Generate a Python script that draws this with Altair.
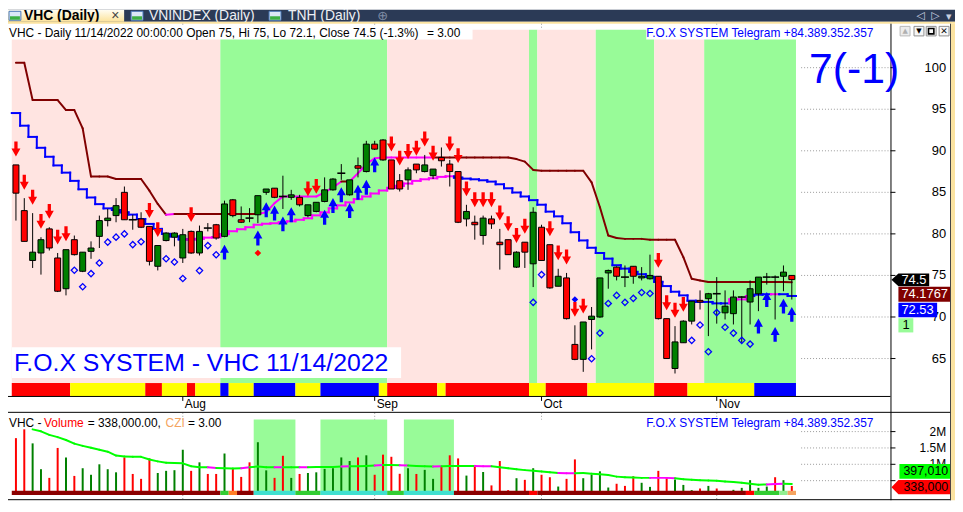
import altair as alt
import pandas as pd

FONT = "Liberation Sans"
SYM = "DejaVu Sans"

# ---------------- daily bars, 4 Jul - 14 Nov 2022 (price in thousand VND) ----------------
opens = [88.3, 82.8, 76.8, 77.7, 80.6, 77.1, 73.4, 79.3, 75.5, 77.9,
         79.7, 81.6, 82.2, 85.0, 81.7, 81.8, 80.9, 76.1, 79.2, 79.6,
         77.1, 80.3, 77.7, 80.7, 81.1, 79.7, 84.1, 81.7, 81.9, 82.3,
         85.0, 85.5, 84.5, 84.4, 84.4, 82.2, 82.7, 83.9, 85.3, 87.3,
         84.7, 88.2, 87.5, 90.8, 91.3, 88.9, 86.4, 86.5, 88.4, 87.5,
         87.0, 89.2, 88.4, 87.5, 81.8, 81.4, 79.8, 81.8, 79.0, 79.3,
         76.0, 79.0, 76.4, 80.8, 78.7, 73.7, 74.7, 66.7, 64.9, 69.7,
         70.0, 75.3, 76.0, 74.8, 76.1, 74.7, 74.6, 74.9, 69.8, 63.8,
         66.9, 69.5, 72.0, 72.2, 72.8, 70.5, 70.4, 72.4, 71.8, 72.8,
         74.8, 74.8, 74.9, 75.0]
highs = [88.3, 84.3, 82.5, 79.6, 80.8, 77.7, 78.1, 79.8, 77.8, 79.1,
         82.2, 83.0, 84.3, 85.7, 82.3, 82.6, 80.9, 78.6, 80.2, 80.2,
         80.6, 80.4, 81.0, 81.3, 81.2, 84.0, 84.2, 83.3, 83.1, 84.6,
         85.4, 85.5, 87.0, 85.3, 84.7, 83.5, 83.8, 86.8, 86.7, 88.4,
         86.5, 89.2, 91.2, 91.2, 91.4, 88.9, 87.2, 88.0, 88.4, 89.5,
         87.8, 90.4, 88.9, 87.5, 83.5, 82.2, 82.2, 82.2, 80.6, 79.3,
         77.9, 79.0, 83.2, 81.1, 78.7, 75.8, 75.3, 69.0, 69.4, 71.2,
         74.7, 75.7, 76.1, 76.2, 76.1, 76.0, 77.5, 74.9, 69.8, 68.9,
         69.6, 71.9, 73.2, 72.9, 74.8, 73.2, 73.2, 72.5, 74.4, 74.8,
         75.3, 75.0, 76.2, 75.0]
lows = [81.6, 79.1, 75.9, 75.1, 78.0, 73.0, 72.6, 77.4, 75.4, 77.0,
        78.3, 80.9, 81.4, 81.7, 80.5, 80.7, 76.2, 75.6, 79.1, 78.5,
        76.5, 77.6, 77.4, 80.3, 79.3, 79.6, 82.0, 81.3, 81.4, 81.3,
        84.7, 84.3, 83.0, 84.1, 83.3, 82.0, 82.6, 83.8, 85.2, 86.5,
        84.6, 86.8, 87.4, 90.1, 88.8, 85.4, 85.1, 85.3, 87.3, 87.4,
        86.6, 88.1, 85.7, 81.3, 80.9, 79.3, 78.7, 80.6, 75.7, 77.5,
        75.9, 75.9, 73.6, 76.8, 73.4, 73.7, 69.7, 64.8, 63.4, 66.1,
        69.9, 73.4, 74.4, 73.6, 74.0, 74.4, 74.5, 69.7, 65.0, 63.2,
        66.9, 69.1, 70.9, 67.7, 69.2, 69.7, 69.1, 66.9, 69.1, 70.7,
        73.9, 69.7, 73.1, 72.1]
closes = [84.9, 79.1, 77.8, 79.3, 78.3, 73.1, 78.1, 77.5, 77.8, 78.3,
          81.6, 81.9, 83.4, 81.7, 81.7, 80.8, 76.7, 78.6, 80.1, 80.1,
          79.9, 77.7, 80.3, 80.7, 79.5, 83.6, 82.2, 81.4, 81.9, 84.6,
          85.4, 84.4, 84.5, 84.7, 83.5, 83.5, 83.8, 85.3, 86.6, 87.3,
          86.5, 87.9, 90.8, 90.2, 88.9, 85.4, 85.4, 87.7, 87.7, 88.3,
          87.8, 88.8, 87.5, 81.4, 82.7, 81.1, 81.9, 81.2, 78.7, 77.5,
          77.8, 77.8, 82.6, 76.8, 73.5, 74.9, 69.8, 64.9, 69.4, 70.1,
          74.7, 75.6, 74.9, 74.8, 74.9, 74.9, 75.0, 69.8, 65.0, 67.0,
          69.5, 71.9, 71.8, 72.8, 72.8, 71.3, 72.4, 72.4, 73.4, 74.8,
          74.8, 74.8, 75.4, 74.5]
volumes_k = [1800, 2070, 1640, 850, 585, 1500, 1210, 645, 880, 680,
             1000, 850, 755, 1210, 705, 555, 1180, 735, 800, 820,
             1445, 800, 1060, 705, 705, 1330, 860, 615, 1060, 1675,
             815, 585, 1260, 585, 705, 735, 755, 860, 880, 1210,
             1100, 1210, 1275, 680, 1295, 1230, 710, 880, 705, 830,
             555, 930, 1275, 1180, 655, 980, 765, 355, 1100, 210,
             575, 525, 880, 680, 605, 320, 555, 1150, 575, 680,
             785, 290, 405, 340, 635, 435, 310, 800, 575, 535,
             370, 210, 260, 340, 260, 110, 220, 280, 515, 280,
             320, 605, 515, 338]
volume_dir = ("dduudduduu" "uuudddduuu" "ududdudddu" "udduduuuuu" "ududdddudu"
              "udddududdd" "ududdudduu" "uuddduuddu" "uududuuuuu" "udud")

upper_stop = [100.6, 100.6, 96.1, 96.1, 96.1, 96.1, 94.9, 94.9, 92.7, 86.9,
              86.9, 86.9, 86.6, 86.6, 86.6, 86.6, 85.2, 83.6, 82.3, 82.4,
              82.4, 82.4, 82.4, 82.4, 82.4, 82.4, 82.4, 82.4, 82.4, 82.4,
              82.6, 83.7, 84.5, 84.5, 84.5, 84.5, 84.5, 85.0, 85.6, 86.3,
              86.3, 87.3, 88.4, 89.1, 89.2, 89.2, 89.2, 89.2, 89.2, 89.2,
              89.2, 89.2, 89.2, 89.2, 89.2, 89.2, 89.2, 89.2, 89.2, 89.2,
              89.0, 88.7, 87.7, 87.6, 87.6, 87.6, 87.6, 87.6, 87.6, 86.2,
              83.2, 79.8, 79.5, 79.4, 79.4, 79.4, 79.3, 79.3, 79.3, 79.3,
              77.2, 74.6, 74.4, 74.2, 74.2, 74.2, 74.2, 74.2, 74.2, 74.2,
              74.2, 74.2, 74.2, 74.18]
lower_stop = [94.54, 93.02, 91.67, 90.36, 89.28, 88.24, 87.37, 86.38, 85.37, 84.38,
              83.58, 83.07, 82.87, 82.59, 82.32, 81.79, 81.2, 80.6, 80.0, 79.69,
              79.33, 79.33, 79.4, 79.55, 79.6, 79.97, 80.32, 80.56, 80.8, 81.1,
              81.22, 81.28, 81.4, 81.52, 81.7, 81.88, 82.23, 82.59, 83.07, 83.43,
              83.79, 84.18, 84.5, 84.86, 85.22, 85.54, 85.78, 86.06, 86.38, 86.57,
              86.69, 86.86, 86.93, 86.77, 86.65, 86.57, 86.45, 86.29, 85.97, 85.49,
              84.98, 84.5, 84.06, 83.51, 82.68, 82.11, 81.28, 80.2, 79.21, 78.33,
              77.7, 77.02, 76.23, 75.82, 75.43, 75.15, 74.83, 74.23, 73.72, 73.04,
              72.6, 71.96, 71.81, 71.81, 71.64, 71.64, 72.12, 72.12, 72.52, 72.68,
              72.74, 72.74, 72.74, 72.53]
volume_ma_k = [2068, 2009, 1899, 1831, 1742, 1632, 1564, 1504, 1445, 1386,
               1267, 1237, 1228, 1228, 1148, 1089, 1050, 1039, 1030, 941,
               911, 911, 890, 881, 872, 881, 911, 932, 911, 911,
               911, 911, 911, 911, 920, 920, 920, 932, 941, 941,
               950, 961, 979, 979, 970, 961, 950, 941, 932, 941,
               950, 950, 950, 950, 941, 941, 911, 881, 852, 822,
               801, 783, 754, 733, 724, 724, 733, 712, 694, 674,
               623, 605, 593, 585, 585, 585, 585, 576, 546, 525,
               516, 504, 496, 475, 457, 436, 407, 377, 386, 398,
               407, 397]
VOLUME_MA_FIRST = 2

upper_stop_runs = [(0, 18, "dn"), (18, 19, "up"), (19, 29, "dn"), (29, 39, "up"),
                   (39, 40, "dn"), (40, 50, "up"), (50, 93, "dn")]
lower_stop_runs = [(0, 20, "dn"), (21, 52, "up"), (53, 85, "dn"), (86, 88, "up"),
                   (89, 90, "dn"), (91, 91, "up"), (92, 93, "dn")]
volume_ma_up_runs = [(23, 24), (27, 28), (31, 32), (34, 35), (39, 40), (43, 44),
                     (46, 47), (50, 51), (55, 57), (65, 67), (76, 79), (90, 92)]

sell_bars = [0, 1, 2, 3, 4, 5, 6, 16, 17, 21, 35, 36, 45, 46, 47, 48, 49, 50, 52, 53,
             54, 55, 56, 57, 58, 59, 60, 61, 64, 65, 66, 67, 68, 77, 78, 79, 80]
buy_bars = [25, 29, 30, 31, 32, 33, 37, 38, 39, 40, 41, 42, 43, 89, 90, 91, 92, 93]
stop_dot_bars = [7, 8, 9, 10, 11, 12, 13, 14, 15, 18, 19, 20, 22, 23, 24, 62, 63,
                 69, 70, 71, 72, 73, 74, 75, 76, 81, 82, 83, 84, 85, 86, 87, 88]
stop_dot_values = [75.63, 73.64, 75.22, 76.5, 79.01, 79.61, 80.0, 78.71, 79.05, 77.01,
                   76.62, 74.63, 75.58, 78.59, 77.49, 71.76, 75.1, 64.98, 68.06, 71.63,
                   72.6, 71.76, 72.24, 72.94, 72.83, 67.19, 69.04, 65.81, 70.53, 68.77,
                   68.06, 67.19, 66.74]
signal_dot_bars = [29, 67]
signal_dot_values = [77.7, 72.1]
signal_dot_kind = ["sell", "buy"]

trend_runs = [(0, 24, "P"), (25, 44, "G"), (45, 61, "P"), (62, 62, "G"), (63, 69, "P"),
              (70, 76, "G"), (77, 82, "P"), (83, 93, "G")]
state_runs = [(0, 6, "R"), (7, 15, "Y"), (16, 17, "R"), (18, 20, "Y"), (21, 21, "R"),
              (22, 24, "Y"), (25, 25, "B"), (26, 28, "Y"), (29, 33, "B"), (34, 36, "Y"),
              (37, 43, "B"), (44, 44, "Y"), (45, 50, "R"), (51, 51, "Y"), (52, 61, "R"),
              (62, 63, "Y"), (64, 68, "R"), (69, 76, "Y"), (77, 80, "R"), (81, 88, "Y"),
              (89, 93, "B")]
volume_zone_runs = [(29, 33, "G"), (37, 44, "G"), (47, 52, "G")]
czi_runs = [(0, 24, "dr"), (25, 25, "g"), (26, 26, "o"), (27, 28, "dr"), (29, 33, "t"),
            (34, 36, "g"), (37, 44, "t"), (45, 46, "g"), (47, 52, "t"), (53, 61, "dr"),
            (62, 62, "r"), (63, 87, "dr"), (88, 88, "r"), (89, 91, "g"), (92, 92, "lg"),
            (93, 93, "sb")]

month_bars = [20, 43, 63, 84]
month_names = ["Aug", "Sep", "Oct", "Nov"]
price_ticks = [65, 70, 75, 80, 85, 90, 95, 100]
volume_ticks_k = [500, 1000, 1500, 2000]
volume_tick_text = ["", "1M", "1.5M", "2M"]

# ---------------- styles ----------------
C_PINK, C_PALE = "#ffe4e1", "#98fb98"
STOP_UP_COL = {"dn": "#800000", "up": "#ff00ff"}
STOP_LO_COL = {"dn": "#0000ff", "up": "#ff00ff"}
STATE_COL = {"R": "#ff0000", "Y": "#ffff00", "B": "#0000ff"}
TREND_COL = {"P": C_PINK, "G": C_PALE}
CZI_COL = {"dr": "#8b0000", "g": "#32cd32", "o": "#ff7f27", "t": "#40e0d0",
           "r": "#ff0000", "lg": "#90ee90", "sb": "#f4a460"}
VOL_COL = {"u": "#008000", "d": "#ff0000"}
DOWN_ARROW = "M-0.22,-1L0.22,-1L0.22,-0.08L0.6,-0.08L0,1L-0.6,-0.08L-0.22,-0.08Z"
UP_ARROW = "M-0.22,1L0.22,1L0.22,0.08L0.6,0.08L0,-1L-0.6,0.08L-0.22,0.08Z"

N = len(closes)
idx = list(range(N))
W, H = 954, 494

XS = alt.Scale(domain=[0, N - 1], range=[3, 794.6], nice=False, zero=False)
PS = alt.Scale(domain=[65, 100], range=[351.3, 58.3], nice=False, zero=False)
VS = alt.Scale(domain=[0, 2000], range=[490.8, 424.9], nice=False, zero=False)


def xq(f):
    return alt.X(f, type="quantitative", scale=XS, axis=None)


def py(f):
    return alt.Y(f, type="quantitative", scale=PS, axis=None)


def vy(f):
    return alt.Y(f, type="quantitative", scale=VS, axis=None)


ONE = pd.DataFrame({"k": [0]})


def box(x1, x2, y1, y2, fill, stroke=None, sw=1.0):
    kw = {"fill": fill}
    if stroke is not None:
        kw["stroke"] = stroke
        kw["strokeWidth"] = sw
    return alt.Chart(ONE).mark_rect(**kw).encode(
        x=alt.value(x1), x2=alt.value(x2), y=alt.value(y1), y2=alt.value(y2))


def txt(t, x, y, size=12, color="#000000", weight="normal", align="left",
        baseline="middle", font=FONT):
    return alt.Chart(ONE).mark_text(text=t, font=font, fontSize=size, color=color,
                                    fontWeight=weight, align=align,
                                    baseline=baseline).encode(x=alt.value(x), y=alt.value(y))


def line(x1, x2, y1, y2, color="#000000", sw=1.0, dash=None):
    kw = {"color": color, "strokeWidth": sw}
    if dash:
        kw["strokeDash"] = dash
    return alt.Chart(ONE).mark_rule(**kw).encode(
        x=alt.value(x1), x2=alt.value(x2), y=alt.value(y1), y2=alt.value(y2))


def runs_df(runs, cmap):
    return pd.DataFrame({"x0": [a - 0.5 for a, b, k in runs],
                         "x1": [b + 0.5 for a, b, k in runs],
                         "col": [cmap[k] for a, b, k in runs]})


def band_layer(runs, cmap, y1, y2):
    return alt.Chart(runs_df(runs, cmap)).mark_rect().encode(
        x=xq("x0"), x2="x1", y=alt.value(y1), y2=alt.value(y2),
        fill=alt.Fill("col:N", scale=None))


# ---------------- tables ----------------
cand = pd.DataFrame({"i": idx, "o": opens, "h": highs, "l": lows, "c": closes})
cand["fillc"] = ["#008000" if c > o else "#ff0000" for o, c in zip(opens, closes)]


def run_code(runs, i):
    for a, b, k in runs:
        if a <= i < b:
            return k
    return runs[-1][2]


up_df = pd.DataFrame({
    "i0": idx[:-1], "i1": idx[1:], "v0": upper_stop[:-1], "v1": upper_stop[1:],
    "col": [STOP_UP_COL[run_code(upper_stop_runs, i)] for i in idx[:-1]]})


def bar_code(runs, i):
    for a, b, k in runs:
        if a <= i <= b:
            return k
    return runs[-1][2]


lo_h = pd.DataFrame({"x0": [i - 0.5 for i in idx], "x1": [i + 0.5 for i in idx],
                     "v": lower_stop,
                     "col": [STOP_LO_COL[bar_code(lower_stop_runs, i)] for i in idx]})
lo_v = pd.DataFrame({"x": [i + 0.5 for i in idx[:-1]], "v0": lower_stop[:-1],
                     "v1": lower_stop[1:],
                     "col": [STOP_LO_COL[bar_code(lower_stop_runs, i + 1)] for i in idx[:-1]]})

ma_idx = list(range(VOLUME_MA_FIRST, VOLUME_MA_FIRST + len(volume_ma_k)))
ma_df = pd.DataFrame({
    "i0": ma_idx[:-1], "i1": ma_idx[1:], "v0": volume_ma_k[:-1], "v1": volume_ma_k[1:],
    "col": ["#ff00ff" if any(a <= i < b for a, b in volume_ma_up_runs) else "#00ff00"
            for i in ma_idx[:-1]]})

vol_df = pd.DataFrame({"i": idx, "vol": volumes_k, "z": 0,
                       "col": [VOL_COL[d] for d in volume_dir]})

sell_df = cand[cand["i"].isin(sell_bars)]
buy_df = cand[cand["i"].isin(buy_bars)]
dots_df = pd.DataFrame({"i": stop_dot_bars, "v": stop_dot_values})
sig_df = pd.DataFrame({"i": signal_dot_bars, "v": signal_dot_values,
                       "col": ["#ff0000" if k == "sell" else "#0000ff" for k in signal_dot_kind]})
months_df = pd.DataFrame({"i": month_bars, "m": month_names})
pt_df = pd.DataFrame({"p": price_ticks, "lab": [str(p) for p in price_ticks]})
vt_df = pd.DataFrame({"v": volume_ticks_k, "lab": volume_tick_text})
vzone_df = runs_df(volume_zone_runs, {"G": C_PALE})

DOT = [1, 2]
GRID = "#9a9a9a"

# ---------------- price pane ----------------
price = alt.layer(
    band_layer(trend_runs, TREND_COL, 20, 376),
    band_layer(state_runs, STATE_COL, 376, 389),
    alt.Chart(months_df).mark_rule(color=GRID, strokeDash=DOT).encode(
        x=xq("i"), y=alt.value(14), y2=alt.value(20)),
    alt.Chart(pt_df).mark_rule(color=GRID, strokeDash=DOT).encode(
        y=py("p"), x=alt.value(799), x2=alt.value(889)),
    alt.Chart(up_df).mark_rule(strokeWidth=2, strokeCap="round").encode(
        x=xq("i0"), x2="i1", y=py("v0"), y2="v1", color=alt.Color("col:N", scale=None)),
    alt.Chart(lo_h).mark_rule(strokeWidth=2, strokeCap="square").encode(
        x=xq("x0"), x2="x1", y=py("v"), color=alt.Color("col:N", scale=None)),
    alt.Chart(lo_v).mark_rule(strokeWidth=2, strokeCap="square").encode(
        x=xq("x"), y=py("v0"), y2="v1", color=alt.Color("col:N", scale=None)),
    alt.Chart(cand).mark_rule(color="#000000", strokeWidth=1).encode(
        x=xq("i"), y=py("l"), y2="h"),
    alt.Chart(cand).transform_filter("datum.o != datum.c").mark_bar(
        size=6, stroke="#000000", strokeWidth=1).encode(
        x=xq("i"), y=py("o"), y2="c", fill=alt.Fill("fillc:N", scale=None)),
    alt.Chart(cand).transform_filter("datum.o == datum.c").mark_tick(
        orient="horizontal", size=8, thickness=1.6, color="#000000", opacity=1).encode(
        x=xq("i"), y=py("c")),
    alt.Chart(dots_df).mark_point(shape="diamond", filled=False, size=40, strokeWidth=1.3,
                                  color="#0000ff", opacity=1).encode(x=xq("i"), y=py("v")),
    alt.Chart(sig_df).mark_point(shape="diamond", filled=True, size=44, opacity=1).encode(
        x=xq("i"), y=py("v"), color=alt.Color("col:N", scale=None)),
    alt.Chart(sell_df).mark_point(shape=DOWN_ARROW, filled=True, size=225, opacity=1,
                                  color="#ff0000", yOffset=-16).encode(x=xq("i"), y=py("h")),
    alt.Chart(buy_df).mark_point(shape=UP_ARROW, filled=True, size=225, opacity=1,
                                 color="#0000ff", yOffset=15).encode(x=xq("i"), y=py("l")),
    alt.Chart(pt_df).mark_rule(color="#000000").encode(
        y=py("p"), x=alt.value(889), x2=alt.value(894)),
    alt.Chart(pt_df).mark_text(font=FONT, fontSize=13, align="right", baseline="middle",
                               color="#000000").encode(y=py("p"), x=alt.value(945), text="lab:N"),
    alt.Chart(months_df).mark_rule(color="#000000").encode(
        x=xq("i"), y=alt.value(390), y2=alt.value(394)),
    alt.Chart(months_df).mark_text(font=FONT, fontSize=12, align="left", baseline="middle",
                                   dx=2, color="#000000").encode(
        x=xq("i"), y=alt.value(397.5), text="m:N"),
)

# ---------------- volume pane ----------------
volume = alt.layer(
    alt.Chart(vzone_df).mark_rect().encode(
        x=xq("x0"), x2="x1", y=alt.value(412.8), y2=alt.value(488.8),
        fill=alt.Fill("col:N", scale=None)),
    alt.Chart(months_df).mark_rule(color=GRID, strokeDash=DOT).encode(
        x=xq("i"), y=alt.value(406), y2=alt.value(412.8)),
    alt.Chart(vt_df).mark_rule(color=GRID, strokeDash=DOT).encode(
        y=vy("v"), x=alt.value(799), x2=alt.value(889)),
    alt.Chart(vol_df).mark_rule(strokeWidth=2).encode(
        x=xq("i"), y=vy("vol"), y2="z", color=alt.Color("col:N", scale=None)),
    alt.Chart(ma_df).mark_rule(strokeWidth=2, strokeCap="round").encode(
        x=xq("i0"), x2="i1", y=vy("v0"), y2="v1", color=alt.Color("col:N", scale=None)),
    band_layer(czi_runs, CZI_COL, 484.5, 488.8),
    box(0, 889, 488.8, 493, "#ffffff"),
    alt.Chart(months_df).mark_rule(color=GRID, strokeDash=DOT).encode(
        x=xq("i"), y=alt.value(488.8), y2=alt.value(493.5)),
    alt.Chart(vt_df).mark_rule(color="#000000").encode(
        y=vy("v"), x=alt.value(889), x2=alt.value(894)),
    alt.Chart(vt_df).mark_text(font=FONT, fontSize=12, align="right", baseline="middle",
                               color="#000000").encode(y=vy("v"), x=alt.value(945), text="lab:N"),
)

# ---------------- window chrome ----------------
tab_grad = alt.LinearGradient(gradient="linear", x1=0, x2=0, y1=0, y2=1,
                              stops=[alt.GradientStop(color="#fffdf2", offset=0),
                                     alt.GradientStop(color="#fce39a", offset=1)])


def icon(x):
    return [box(x, x + 12, 1.5, 10.5, "#dbe8f6", "#4a78b8"),
            box(x + 1, x + 11, 6.5, 10, "#3cb043")]


chrome = alt.layer(
    box(0, W, 0, 12, "#2b3a56"),
    box(0, 117, 0, 12, tab_grad),
    *icon(1), *icon(124), *icon(263),
    txt("VHC (Daily)", 16, 6.5, size=14, weight="bold"),
    txt("\u00d7", 104, 6.5, size=14, color="#444444"),
    txt("VNINDEX (Daily)", 142, 6.5, size=14, color="#eef0f4"),
    txt("TNH (Daily)", 282, 6.5, size=14, color="#eef0f4"),
    txt("\u2295", 372, 6.5, size=13, color="#7f8ca5", font=SYM),
    txt("\u25c1", 915, 6.5, size=11, color="#c8d0e0", font=SYM),
    txt("\u25b7", 930, 6.5, size=11, color="#c8d0e0", font=SYM),
    txt("\u25be", 945, 7, size=11, color="#c8d0e0", font=SYM),
    box(0, W, 12, 14, "#fbe3a0"),
)

TAG745 = "M-1,0L-0.63,-0.34L1,-0.34L1,0.34L-0.63,0.34Z"
TAG338 = "M-1,0L-0.763,-0.244L1,-0.244L1,0.244L-0.763,0.244Z"

overlay = alt.layer(
    # pane separators and axis frame
    line(0, 889, 389.5, 389.5),
    line(0, 950, 405.5, 405.5),
    line(0, 950, 493.5, 493.5),
    line(889.5, 889.5, 14, 494),
    line(949.5, 949.5, 14, 494, color="#404040"),
    box(950, W, 14, H, "#fbe3a0"),
    # header legends
    box(0, 468, 16, 30, "#ffffff"),
    txt("VHC - Daily 11/14/2022 00:00:00 Open 75, Hi 75, Lo 72.1, Close 74.5 (-1.3%)", 1, 23),
    txt("= 3.00", 422, 23),
    box(643, 874, 16, 30, "#ffffff"),
    txt("F.O.X SYSTEM Telegram +84.389.352.357", 643, 23, color="#0000ff"),
    txt("7(-1)", 807, 74, size=43, color="#0000ff", baseline="alphabetic"),
    box(4, 396, 340, 371, "#ffffff"),
    txt("F.O.X SYSTEM - VHC 11/14/2022", 6, 364, size=25, color="#0000ff",
        baseline="alphabetic"),
    txt("VHC -", 1, 415.8),
    txt("Volume", 36.3, 415.8, color="#ff0000"),
    txt("= 338,000.00,", 80.3, 415.8),
    txt("CZI", 158.7, 415.8, color="#f4a460"),
    txt("= 3.00", 181.3, 415.8),
    txt("F.O.X SYSTEM Telegram +84.389.352.357", 643, 415.8, color="#0000ff"),
    # last-value tags, price pane
    alt.Chart(ONE).mark_point(shape=TAG745, filled=True, size=1444, color="#000000",
                              opacity=1).encode(x=alt.value(909), y=alt.value(272)),
    txt("74.5", 900, 272, size=13, color="#ffffff"),
    box(897, 949, 279, 294, "#800000"),
    txt("74.1767", 900, 286.5, size=13, color="#ffffff"),
    box(897, 936, 295, 309.7, "#0000ff"),
    txt("72.53", 900, 302.3, size=13, color="#ffffff"),
    box(897, 912, 310.7, 325, "#98fb98"),
    txt("1", 901, 317.8, size=13, color="#000000"),
    # last-value tags, volume pane
    box(898, 949, 457.5, 472.5, "#00ff00"),
    txt("397,010", 902, 465, size=12.5, color="#000000"),
    alt.Chart(ONE).mark_point(shape=TAG338, filled=True, size=3481, color="#ff0000",
                              opacity=1).encode(x=alt.value(919.5), y=alt.value(480.9)),
    txt("338,000", 902, 480.9, size=12.5, color="#000000"),
    # pane window buttons
    box(898.7, 908.7, 16.7, 26.3, "#ececec", "#b8b8b8"),
    txt("\u25b2", 903.7, 21.5, size=7, color="#b0b0b0", align="center", font=SYM),
    box(912.7, 922.7, 16.7, 26.3, "#f6f6f6", "#909090"),
    txt("\u25bc", 917.7, 21.8, size=7, color="#000000", align="center", font=SYM),
    box(925, 935, 16.7, 26.3, "#f6f6f6", "#909090"),
    box(927.3, 932.7, 18.8, 24.2, "#f6f6f6", "#000000", 1.6),
    box(938, 948, 16.7, 26.3, "#f6f6f6", "#909090"),
    txt("\u2715", 943, 21.8, size=9, color="#000000", align="center", weight="bold", font=SYM),
)

chart = alt.layer(chrome, price, volume, overlay).resolve_scale(y="independent").properties(
    width=W, height=H, padding=0, autosize=alt.AutoSizeParams(type="none"),
    background="#ffffff",
).configure_view(stroke=None)

chart.save("out.html", embed_options={"renderer": "svg", "actions": False})
